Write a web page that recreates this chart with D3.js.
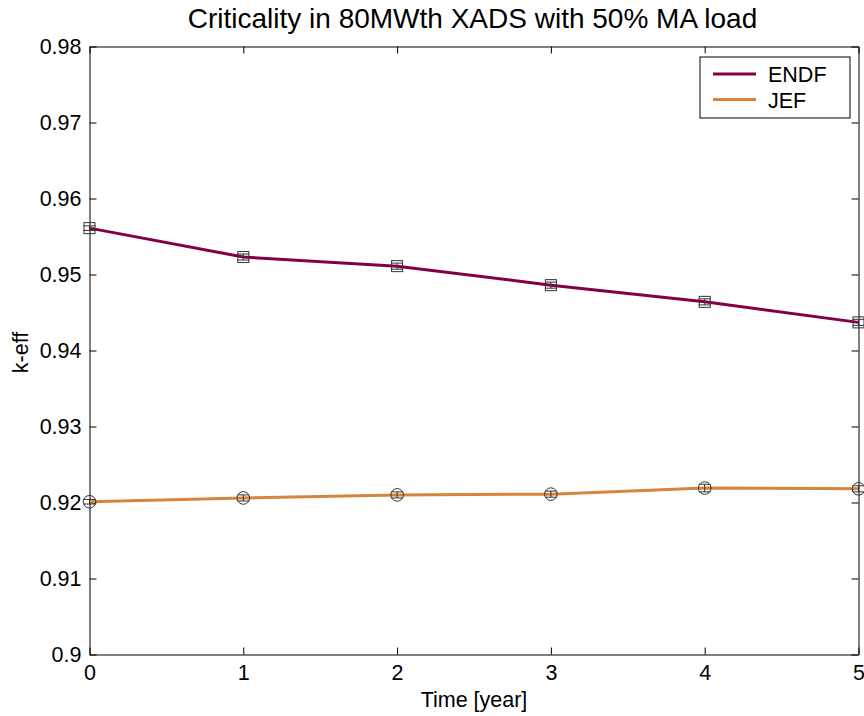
<!DOCTYPE html>
<html>
<head>
<meta charset="utf-8">
<script src="https://cdn.jsdelivr.net/npm/d3@7"></script>
<style>
  body { margin: 0; background: #fff; }
  text { font-family: "Liberation Sans", Arial, sans-serif; fill: #000; }
</style>
</head>
<body>
<svg id="chart" width="864" height="716"></svg>
<script>
const years = [0, 1, 2, 3, 4, 5];
const endf = [0.9561, 0.9523, 0.9511, 0.9486, 0.9464, 0.9437];
const jef = [0.9201, 0.9206, 0.9210, 0.9211, 0.9219, 0.9218];
const endfErr = [0.0003, 0.0004, 0.0004, 0.0004, 0.0004, 0.0004];
const jefErr = [0.0003, 0.0004, 0.0004, 0.0004, 0.0005, 0.0004];
const xTicks = [0, 1, 2, 3, 4, 5];
const yTicks = [0.9, 0.91, 0.92, 0.93, 0.94, 0.95, 0.96, 0.97, 0.98];
const seriesNames = ["ENDF", "JEF"];
const seriesColors = ["#820049", "#d4843c"];

const margin = {top: 46.5, right: 5.5, bottom: 61.5, left: 89.5},
  width = 864 - margin.left - margin.right,
  height = 716 - margin.top - margin.bottom;

const svg = d3.select("#chart")
  .append("g")
  .attr("transform", `translate(${margin.left},${margin.top})`);

const x = d3.scaleLinear().domain([0, 5]).range([0, width]);
const y = d3.scaleLinear().domain([0.9, 0.98]).range([height, 0]);

// axes box, ticks pointing inward on all four sides
svg.append("g")
  .attr("transform", `translate(0,${height})`)
  .call(d3.axisBottom(x).tickValues(xTicks).tickSizeInner(-7).tickSizeOuter(0).tickPadding(10.5).tickFormat(d3.format("d")))
  .call(g => g.selectAll("text").style("font-size", "21.5px"));
svg.append("g")
  .call(d3.axisTop(x).tickValues(xTicks).tickSizeInner(-7).tickSizeOuter(0).tickFormat(""));
svg.append("g")
  .call(d3.axisLeft(y).tickValues(yTicks).tickSizeInner(-7).tickSizeOuter(0).tickPadding(8).tickFormat(d => d3.format(".2~f")(d)))
  .call(g => g.selectAll("text").style("font-size", "21.5px"));
svg.append("g")
  .attr("transform", `translate(${width},0)`)
  .call(d3.axisRight(y).tickValues(yTicks).tickSizeInner(-7).tickSizeOuter(0).tickFormat(""));
svg.selectAll(".domain").attr("stroke", "#000");
svg.selectAll(".tick line").attr("stroke", "#000");

const line = d3.line().x((d, i) => x(years[i])).y(d => y(d));

[[endf, endfErr], [jef, jefErr]].forEach(([vals, errs], s) => {
  svg.append("path")
    .datum(vals)
    .attr("fill", "none")
    .attr("stroke", seriesColors[s])
    .attr("stroke-width", 3)
    .attr("d", line);

  const g = svg.append("g").attr("stroke", "#333").attr("fill", "none").attr("stroke-width", 1);
  // error bars
  vals.forEach((v, i) => {
    const cx = x(years[i]), lo = y(v - errs[i]), hi = y(v + errs[i]);
    g.append("line").attr("x1", cx).attr("x2", cx).attr("y1", lo).attr("y2", hi);
    g.append("line").attr("x1", cx - 6).attr("x2", cx + 6).attr("y1", lo).attr("y2", lo);
    g.append("line").attr("x1", cx - 6).attr("x2", cx + 6).attr("y1", hi).attr("y2", hi);
  });
  // markers
  if (s === 0) {
    g.selectAll("rect").data(vals).join("rect")
      .attr("x", (d, i) => x(years[i]) - 5.5)
      .attr("y", d => y(d) - 5.5)
      .attr("width", 11).attr("height", 11);
  } else {
    g.selectAll("circle").data(vals).join("circle")
      .attr("cx", (d, i) => x(years[i]))
      .attr("cy", d => y(d))
      .attr("r", 6.3);
  }
});

// legend
const legend = svg.append("g").attr("transform", `translate(${700 - margin.left},${57 - margin.top})`);
legend.append("rect")
  .attr("width", 150).attr("height", 61)
  .attr("fill", "#fff").attr("stroke", "#000");
seriesNames.forEach((name, i) => {
  const ly = 17 + i * 25.5;
  legend.append("line")
    .attr("x1", 13).attr("x2", 56).attr("y1", ly).attr("y2", ly)
    .attr("stroke", seriesColors[i]).attr("stroke-width", 3);
  legend.append("text")
    .attr("x", 68).attr("y", ly + 8)
    .style("font-size", "21.5px")
    .text(name);
});

// titles
svg.append("text")
  .attr("x", width / 2 - 1.5).attr("y", 28 - margin.top)
  .attr("text-anchor", "middle")
  .style("font-size", "28px")
  .text("Criticality in 80MWth XADS with 50% MA load");

svg.append("text")
  .attr("x", width / 2).attr("y", height + 52)
  .attr("text-anchor", "middle")
  .style("font-size", "21.5px")
  .text("Time [year]");

svg.append("text")
  .attr("transform", `translate(${28 - margin.left},${height / 2 + 2}) rotate(-90)`)
  .attr("text-anchor", "middle")
  .style("font-size", "21.5px")
  .text("k-eff");
</script>
</body>
</html>
